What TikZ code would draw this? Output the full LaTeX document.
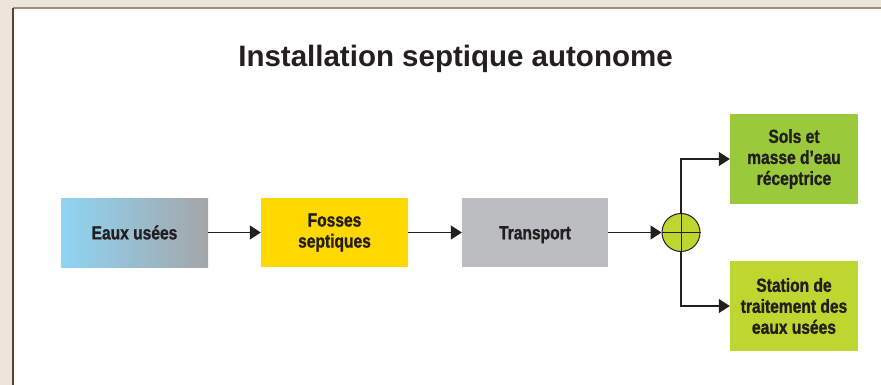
\documentclass[tikz,border=0pt]{standalone}
\usepackage{fontspec}
\setmainfont{Liberation Sans}
\newfontfamily\condfont[FakeStretch=0.82,FakeBold=1.2]{Liberation Sans}
\usetikzlibrary{arrows.meta}
\definecolor{ink}{HTML}{231F20}
\definecolor{paper}{HTML}{EDE5DC}
\definecolor{frameL}{HTML}{5A4326}
\definecolor{frameT}{HTML}{A08F73}
\definecolor{skyblue}{HTML}{8FD4F4}
\definecolor{steel}{HTML}{A4A6A9}
\definecolor{tankyellow}{HTML}{FFD800}
\definecolor{pipegray}{HTML}{BCBDC0}
\definecolor{soilgreen}{HTML}{9BC93C}
\definecolor{plantgreen}{HTML}{BDD630}
\tikzset{
  stage/.style={rectangle, inner sep=0pt, align=center, text=ink,
    font=\condfont\bfseries\fontsize{19}{21}\selectfont},
  wide/.style={stage, minimum width=147pt, minimum height=69pt},
  outlet/.style={stage, minimum width=128pt, minimum height=90pt},
  flow/.style={draw=ink, line width=1.1pt, -{Triangle[length=11pt,width=14pt]}},
}
\begin{document}
\begin{tikzpicture}[x=1pt,y=-1pt]
  \useasboundingbox (0,0) rectangle (881,385);
  % page background and white panel
  \fill[paper] (0,0) rectangle (881,385);
  \fill[white] (13,8) rectangle (881,385);
  \draw[frameT, line width=1.5pt] (13,8) -- (881,8);
  \draw[frameL, line width=1.5pt] (13,8) -- (13,385);

  \node[anchor=base, text=ink, font=\bfseries\fontsize{29.5}{34}\selectfont] (title) at (455.5,67) {Installation septique autonome};

  \node[wide, left color=skyblue, right color=steel] (eaux) at (134.5,232.5) {Eaux usées};
  \node[wide, fill=tankyellow] (fosse) at (334.5,232.5) {Fosses\\septiques};
  \node[wide, fill=pipegray, minimum width=146pt, text height=13.5pt, text depth=0pt] (trans) at (535,232.5) {Transport};
  \node[circle, draw=ink, line width=1pt, fill=plantgreen, minimum size=38pt, inner sep=0pt] (jct) at (681,232.5) {};
  \draw[ink, line width=1pt] (jct.north) -- (jct.south) (jct.west) -- (jct.east);
  \node[outlet, fill=soilgreen] (sols) at (794,159) {Sols et\\masse d’eau\\réceptrice};
  \node[outlet, fill=plantgreen] (stat) at (794,306) {Station de\\traitement des\\eaux usées};

  \draw[flow] (eaux.east) -- (fosse.west);
  \draw[flow] (fosse.east) -- (trans.west);
  \draw[flow] (trans.east) -- (jct.west);
  \draw[flow] (jct.north) |- (sols.west);
  \draw[flow] (jct.south) |- (stat.west);
\end{tikzpicture}
\end{document}
